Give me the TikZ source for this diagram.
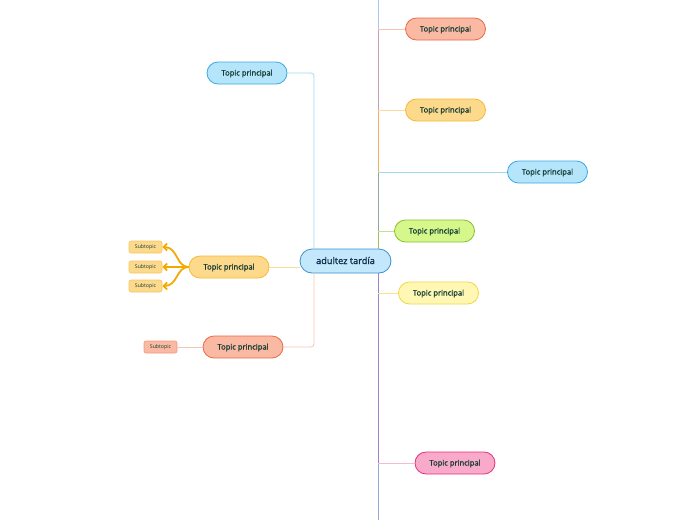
\documentclass[tikz,border=0pt]{standalone}
\usepackage{fontspec}
\setmainfont{Open Sans}
\newfontfamily\semibold[FakeBold=1.2]{Open Sans}
\usetikzlibrary{arrows.meta}
\definecolor{salmonfill}{HTML}{FAB9A3}
\definecolor{salmondraw}{HTML}{EA6A45}
\definecolor{salmonline}{HTML}{F7C3B2}
\definecolor{orangefill}{HTML}{FDD98C}
\definecolor{orangedraw}{HTML}{F5B935}
\definecolor{orangeline}{HTML}{FBDCA0}
\definecolor{bluefill}{HTML}{B5E5FB}
\definecolor{bluedraw}{HTML}{3AA8E2}
\definecolor{blueline}{HTML}{9FD8F2}
\definecolor{greenfill}{HTML}{D5F78C}
\definecolor{greendraw}{HTML}{8DBE2C}
\definecolor{greenline}{HTML}{C6E08E}
\definecolor{yellowfill}{HTML}{FFF7B3}
\definecolor{yellowdraw}{HTML}{EFD83F}
\definecolor{yellowline}{HTML}{F4E58E}
\definecolor{pinkfill}{HTML}{F9A9C9}
\definecolor{pinkdraw}{HTML}{E5307B}
\definecolor{pinkline}{HTML}{F8B9D2}
\definecolor{centerfill}{HTML}{C3E8FB}
\definecolor{centerdraw}{HTML}{3B8FD4}
\definecolor{topictext}{HTML}{163D33}
\definecolor{centertext}{HTML}{112A4A}
\definecolor{arrowcol}{HTML}{F5A900}
\begin{document}
\begin{tikzpicture}[x=1pt,y=-1pt,
  topic/.style={draw,line width=0.8pt,rounded corners=11pt,minimum width=80pt,minimum height=22pt,inner sep=0pt,text height=5pt,text depth=0pt,font=\semibold\fontsize{7.6}{8}\selectfont,text=topictext},
  subtopic/.style={draw,line width=0.6pt,rounded corners=2pt,minimum width=33pt,minimum height=12pt,inner sep=0pt,text height=3.5pt,text depth=0pt,font=\fontsize{5.2}{6}\selectfont,text=topictext},
  link/.style={line width=0.8pt,rounded corners=3pt},
  sublink/.style={line width=1.8pt,arrowcol,-{Straight Barb[length=3.5pt,width=7pt,line width=1.8pt]}}]
\useasboundingbox (0,0) rectangle (696,520);
% central topic
\node[topic,fill=centerfill,draw=centerdraw,minimum width=91pt,minimum height=24pt,rounded corners=12pt,text height=6pt,font=\semibold\fontsize{9.2}{10}\selectfont,text=centertext] (center) at (345.5,261) {adultez tardía};
% left side
\node[topic,fill=bluefill,draw=bluedraw] (tl1) at (247,73) {Topic principal};
\node[topic,fill=orangefill,draw=orangedraw] (tl2) at (229,267) {Topic principal};
\node[topic,fill=salmonfill,draw=salmondraw] (tl3) at (243,347) {Topic principal};
\node[subtopic,fill=orangefill,draw=orangedraw!80] (s1) at (145.5,247) {Subtopic};
\node[subtopic,fill=orangefill,draw=orangedraw!80] (s2) at (145.5,267) {Subtopic};
\node[subtopic,fill=orangefill,draw=orangedraw!80] (s3) at (145.5,286) {Subtopic};
\node[subtopic,fill=salmonfill,draw=salmondraw!70] (s4) at (160.5,347) {Subtopic};
% right side
\node[topic,fill=salmonfill,draw=salmondraw] (tr1) at (445.5,29) {Topic principal};
\node[topic,fill=orangefill,draw=orangedraw] (tr2) at (445.5,110) {Topic principal};
\node[topic,fill=bluefill,draw=bluedraw] (tr3) at (547.5,172) {Topic principal};
\node[topic,fill=greenfill,draw=greendraw] (tr4) at (434.5,231) {Topic principal};
\node[topic,fill=yellowfill,draw=yellowdraw] (tr5) at (438.5,293) {Topic principal};
\node[topic,fill=pinkfill,draw=pinkdraw] (tr6) at (455,463) {Topic principal};
% trunk on the right
\coordinate (k0) at (378,0);
\coordinate (k1) at (378,29);
\coordinate (k2) at (378,110);
\coordinate (k3) at (378,172);
\coordinate (k4) at (378,231);
\coordinate (k5) at (378,249);
\coordinate (k6) at (378,273);
\coordinate (k7) at (378,463);
\coordinate (k8) at (378,520);
\draw[line width=1pt,color={rgb,255:red,168;green,200;blue,240}] (k0) -- (k1);
\draw[line width=1pt,color={rgb,255:red,200;green,160;blue,178}] (k1) -- (k2);
\draw[line width=1pt,color={rgb,255:red,238;green,176;blue,96}] (k2) -- (k3);
\draw[line width=1pt,color={rgb,255:red,146;green,168;blue,152}] (k3) -- (k4);
\draw[line width=1pt,color={rgb,255:red,160;green,192;blue,96}] (k4) -- (k5);
\draw[line width=1pt,color={rgb,255:red,160;green,128;blue,200}] (k6) -- (k7);
\draw[line width=1pt,color={rgb,255:red,152;green,168;blue,216}] (k7) -- (k8);
\draw[link,salmonline] (k1) -- (tr1.west);
\draw[link,orangeline] (k2) -- (tr2.west);
\draw[link,blueline] (k3) -- (tr3.west);
\draw[link,greenline] (k4) -- (tr4.west);
\draw[link,yellowline] (378,293) -- (tr5.west);
\draw[link,pinkline] (k7) -- (tr6.west);
% left connectors
\draw[link,blueline] (center.north -| 314,0) |- (tl1.east);
\draw[link,orangeline] (center.west |- tl2.east) -- (tl2.east);
\draw[link,salmonline] (center.south -| 314,0) |- (tl3.east);
\draw[link,salmonline] (tl3.west) -- (s4.east);
% subtopic arrows
\draw[sublink] (tl2.west) .. controls (176,267) and (178,247) .. (s1.east);
\draw[sublink] (tl2.west) -- (s2.east);
\draw[sublink] (tl2.west) .. controls (176,267) and (178,286) .. (s3.east);
\end{tikzpicture}
\end{document}
